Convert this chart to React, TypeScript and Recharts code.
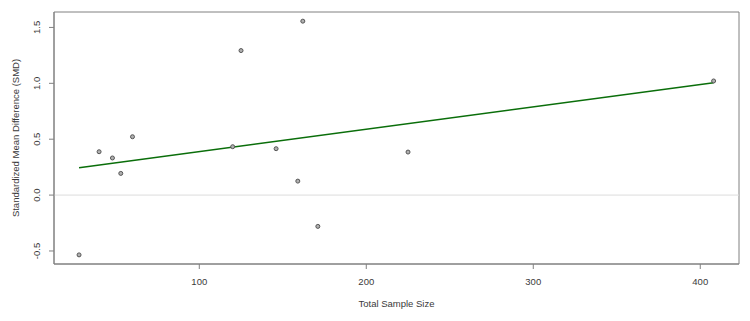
import {
  ScatterChart,
  Scatter,
  XAxis,
  YAxis,
  CartesianGrid,
  ReferenceLine,
  Label,
} from "recharts";

// studies: total sample size vs SMD
const sampleSize = [28, 40, 48, 53, 60, 120, 125, 162, 146, 159, 171, 225, 408];
const smd = [-0.535, 0.388, 0.332, 0.194, 0.522, 0.433, 1.293, 1.556, 0.415, 0.125, -0.28, 0.385, 1.021];

// meta-regression line, end points
const fitX = [28, 408];
const fitY = [0.245, 1.006];

const xTicks = [100, 200, 300, 400];
const yTicks = [-0.5, 0, 0.5, 1, 1.5];

const points = sampleSize.map((n, i) => ({ n, smd: smd[i] }));
const fitLine = fitX.map((n, i) => ({ n, smd: fitY[i] }));

const FONT = "'Liberation Sans', Arial, Helvetica, sans-serif";
const TEXT = "#3a3a3a";
const GREY = "#808080";

const Dot = ({ cx, cy }: any) => (
  <circle cx={cx} cy={cy} r={2} fill="#b0b0b0" stroke="#555" strokeWidth={1} />
);

const YTick = ({ x, y, payload }: any) => (
  <text
    x={x - 10}
    y={y}
    transform={`rotate(-90 ${x - 10} ${y})`}
    textAnchor="middle"
    dominantBaseline="central"
    fontSize={9.5}
    fontFamily={FONT}
    fill={TEXT}
  >
    {payload.value.toFixed(1)}
  </text>
);

export default function App() {
  return (
    <div style={{ position: "absolute", left: 0, top: 0, background: "#fff" }}>
      <ScatterChart
        width={750}
        height={321}
        margin={{ top: 12, right: 11, bottom: 0, left: 0 }}
      >
        {/* plot frame (box around the panel) */}
        <CartesianGrid
          stroke={GREY}
          strokeDasharray="0"
          horizontalCoordinatesGenerator={({ offset }: any) => [
            offset.top,
            offset.top + offset.height,
          ]}
          verticalCoordinatesGenerator={({ offset }: any) => [
            offset.left,
            offset.left + offset.width,
          ]}
        />
        <XAxis
          type="number"
          dataKey="n"
          domain={[13, 423.2]}
          ticks={xTicks}
          height={57}
          tickSize={5}
          tickMargin={9}
          axisLine={{ stroke: GREY }}
          tickLine={{ stroke: GREY }}
          tick={{ fontSize: 9.5, fontFamily: FONT, fill: TEXT }}
        >
          <Label
            value="Total Sample Size"
            position="insideBottom"
            offset={14}
            fontSize={9.5}
            fontFamily={FONT}
            fill={TEXT}
          />
        </XAxis>
        <YAxis
          type="number"
          dataKey="smd"
          domain={[-0.6165, 1.638]}
          ticks={yTicks}
          width={54}
          tickSize={5}
          axisLine={{ stroke: GREY }}
          tickLine={{ stroke: GREY }}
          tick={<YTick />}
        >
          <Label
            content={({ viewBox }: any) => {
              const cx = viewBox.x + 15;
              const cy = viewBox.y + viewBox.height / 2;
              return (
                <text
                  x={cx}
                  y={cy}
                  transform={`rotate(-90 ${cx} ${cy})`}
                  textAnchor="middle"
                  dominantBaseline="central"
                  fontSize={9.5}
                  fontFamily={FONT}
                  fill={TEXT}
                >
                  Standardized Mean Difference (SMD)
                </text>
              );
            }}
          />
        </YAxis>
        <ReferenceLine y={0} stroke="#dcdcdc" strokeWidth={1} />
        <Scatter
          data={fitLine}
          line={{ stroke: "#0a6e0a", strokeWidth: 1.5 }}
          shape={() => <g />}
          isAnimationActive={false}
        />
        <Scatter data={points} shape={<Dot />} isAnimationActive={false} />
      </ScatterChart>
    </div>
  );
}
